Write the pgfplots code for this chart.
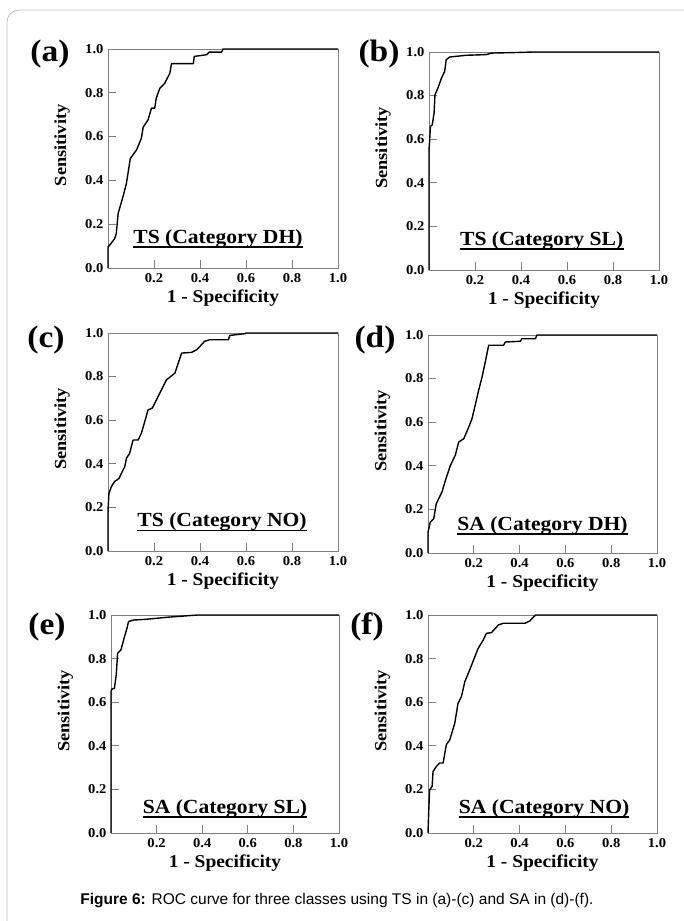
\documentclass[border=0pt]{standalone}
\usepackage{fontspec}
\setmainfont{Liberation Serif}[FakeStretch=1.08]
\newfontfamily\capfont{Liberation Sans}
\usepackage{pgfplots}
\pgfplotsset{compat=1.18}

\pgfplotsset{
  roc/.style={
    scale only axis,
    xmin=0, xmax=1, ymin=0, ymax=1,
    clip=false,
    xtick={0.2,0.4,0.6,0.8,1.0},
    ytick={0,0.2,0.4,0.6,0.8,1.0},
    xtick pos=bottom, ytick pos=left,
    tick align=inside,
    major tick length=8pt,
    axis line style={black!50, line width=0.8pt},
    every tick/.style={black!50, line width=0.8pt},
    /pgf/number format/assume math mode=true,
    /pgf/number format/.cd, fixed, fixed zerofill, precision=1, /pgfplots/.cd,
    tick label style={font=\fontsize{13.5}{13.5}\selectfont\bfseries},
    xticklabel style={yshift=-2pt},
    yticklabel style={xshift=-1pt},
    xlabel={1 - Specificity},
    ylabel={Sensitivity},
    xlabel style={font=\fontsize{18}{18}\selectfont\bfseries, at={(axis description cs:0.5,-0.137)}, anchor=center},
    ylabel style={font=\fontsize{17}{17}\selectfont\bfseries, at={(axis description cs:-0.2,0.56)}, anchor=center},
  },
  curve/.style={black, line width=1.4pt, line join=round, no marks},
}

\newcommand\cat[3]{%
  \node[anchor=base, inner sep=0pt, font=\fontsize{20}{20}\selectfont\bfseries] (cl) at ([yshift=#2]axis description cs:#1,0) {#3};
  \draw[line width=1.5pt] ([yshift=-4pt]cl.base west) -- ([yshift=-4pt]cl.base east);}

\begin{document}
\begin{tikzpicture}
\useasboundingbox (0pt,0pt) rectangle (683pt,-921pt);
\draw[black!25, line width=0.8pt, rounded corners=12pt] (7pt,-10pt) rectangle (740pt,-980pt);

% (a) TS DH
\begin{axis}[roc, at={(108pt,-49pt)}, anchor=north west, width=230pt, height=219pt]
\addplot[curve] coordinates {
(0,0) (0,0.096) (0.010,0.108) (0.029,0.134) (0.036,0.157) (0.044,0.249)
(0.065,0.325) (0.080,0.386) (0.097,0.500) (0.124,0.539) (0.145,0.592)
(0.153,0.643) (0.174,0.676) (0.189,0.730) (0.203,0.730) (0.210,0.776)
(0.225,0.820) (0.247,0.844) (0.269,0.890) (0.276,0.933) (0.371,0.933)
(0.375,0.966) (0.429,0.974) (0.440,0.986) (0.494,0.986) (0.500,1.0) (1,1)};
\cat{0.478}{25pt}{TS (Category DH)}
\end{axis}

% (b) TS SL
\begin{axis}[roc, at={(429pt,-52pt)}, anchor=north west, width=230pt, height=218pt]
\addplot[curve] coordinates {
(0,0) (0,0.55) (0.003,0.597) (0.006,0.658) (0.014,0.666) (0.022,0.720)
(0.026,0.804) (0.039,0.835) (0.054,0.880) (0.068,0.911) (0.075,0.965)
(0.090,0.977) (0.162,0.985) (0.249,0.988) (0.271,0.995) (0.394,0.998)
(0.452,1.0) (1,1)};
\cat{0.49}{25pt}{TS (Category SL)}
\end{axis}

% (c) TS NO
\begin{axis}[roc, at={(108pt,-333pt)}, anchor=north west, width=230pt, height=218pt]
\addplot[curve] coordinates {
(0,0) (0,0.187) (0.004,0.264) (0.015,0.296) (0.029,0.319) (0.048,0.333)
(0.058,0.356) (0.073,0.387) (0.080,0.425) (0.094,0.448) (0.109,0.509)
(0.131,0.509) (0.145,0.540) (0.160,0.594) (0.174,0.647) (0.193,0.656)
(0.218,0.709) (0.254,0.785) (0.291,0.816) (0.320,0.908) (0.363,0.911)
(0.385,0.923) (0.400,0.939) (0.420,0.962) (0.443,0.969) (0.523,0.969)
(0.530,0.989) (0.596,0.997) (0.600,1.0) (1,1)};
\cat{0.496}{24.5pt}{TS (Category NO)}
\end{axis}

% (d) SA DH
\begin{axis}[roc, at={(428pt,-335pt)}, anchor=north west, width=229pt, height=218pt]
\addplot[curve] coordinates {
(0,0) (0,0.096) (0.010,0.142) (0.025,0.157) (0.036,0.226) (0.061,0.280)
(0.076,0.333) (0.098,0.402) (0.119,0.448) (0.134,0.509) (0.156,0.524)
(0.178,0.578) (0.192,0.616) (0.211,0.700) (0.221,0.746) (0.236,0.807)
(0.250,0.876) (0.265,0.953) (0.330,0.953) (0.338,0.968) (0.403,0.971)
(0.410,0.983) (0.469,0.983) (0.476,1.0) (1,1)};
\cat{0.5}{23pt}{SA (Category DH)}
\end{axis}

% (e) SA SL
\begin{axis}[roc, at={(111pt,-615pt)}, anchor=north west, width=228pt, height=218pt]
\addplot[curve] coordinates {
(0,0) (0,0.649) (0.004,0.660) (0.015,0.664) (0.023,0.725) (0.029,0.824)
(0.044,0.840) (0.055,0.885) (0.070,0.939) (0.077,0.970) (0.099,0.977)
(0.150,0.980) (0.250,0.990) (0.380,1.0) (1,1)};
\cat{0.5}{20pt}{SA (Category SL)}
\end{axis}

% (f) SA NO
\begin{axis}[roc, at={(428pt,-615pt)}, anchor=north west, width=229pt, height=218pt]
\addplot[curve] coordinates {
(0,0) (0.004,0.122) (0.007,0.198) (0.018,0.214) (0.022,0.282) (0.036,0.305)
(0.051,0.321) (0.066,0.321) (0.080,0.405) (0.095,0.427) (0.117,0.504)
(0.131,0.595) (0.146,0.626) (0.161,0.695) (0.182,0.748) (0.219,0.847)
(0.241,0.885) (0.255,0.916) (0.277,0.919) (0.307,0.954) (0.328,0.962)
(0.423,0.962) (0.445,0.973) (0.460,0.990) (0.470,1.0) (1,1)};
\cat{0.507}{20pt}{SA (Category NO)}
\end{axis}

\begin{scope}[every node/.style={font=\fontsize{31}{31}\selectfont\bfseries, inner sep=0pt}]
\node at (50pt,-54pt) {(a)};
\node at (379pt,-54pt) {(b)};
\node at (46pt,-340pt) {(c)};
\node at (375pt,-340pt) {(d)};
\node at (47pt,-627pt) {(e)};
\node at (367pt,-627pt) {(f)};
\end{scope}

\node[font=\capfont\fontsize{15.5}{15.5}\selectfont] at (337pt,-901pt) {\textbf{Figure 6:} ROC curve for three classes using TS in (a)-(c) and SA in (d)-(f).};
\end{tikzpicture}
\end{document}
